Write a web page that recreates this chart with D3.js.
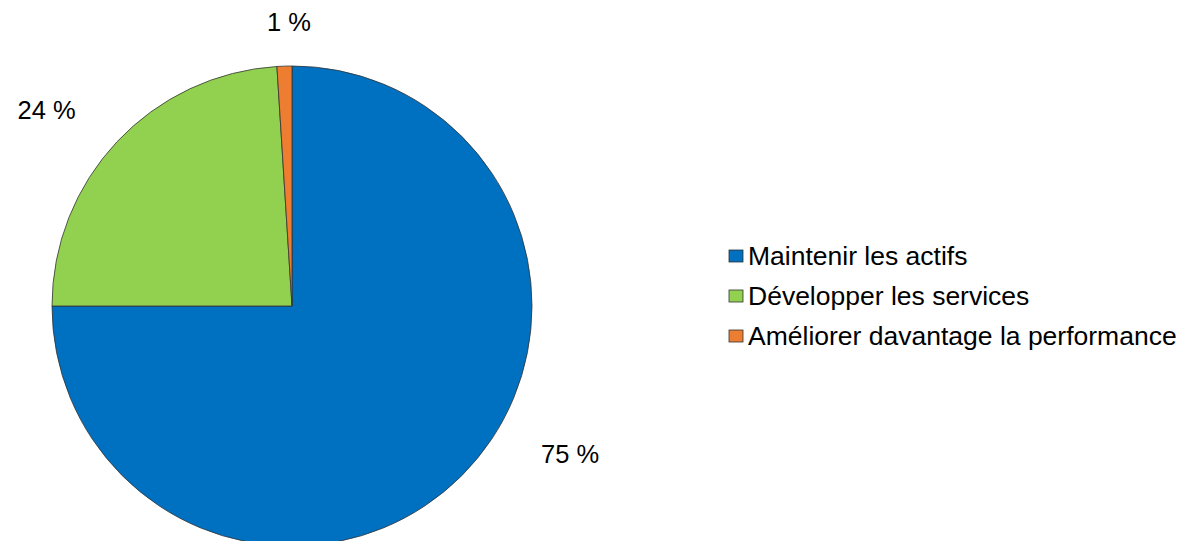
<!DOCTYPE html>
<html><head><meta charset="utf-8">
<script src="https://cdn.jsdelivr.net/npm/d3@7"></script>
<style>html,body{margin:0;padding:0;background:#fff;overflow:hidden}svg{display:block}</style>
</head><body>
<svg id="chart" width="1182" height="541"></svg>
<script>
const categories = ["Maintenir les actifs", "Développer les services", "Améliorer davantage la performance"];
const values = [75, 24, 1];
const labels = ["75 %", "24 %", "1 %"];
const colors = ["#0070C0", "#92D050", "#ED7D31"];

const W = 1182, H = 541;
const svg = d3.select("#chart");
const cx = 292, cy = 306, R = 240;
const font = "'Liberation Sans', Arial, sans-serif";

const pie = d3.pie().sort(null).value(d => d)(values);
const arc = d3.arc().innerRadius(0).outerRadius(R);

const g = svg.append("g").attr("transform", `translate(${cx},${cy})`);
g.selectAll("path").data(pie).join("path")
  .attr("d", arc)
  .attr("fill", (d, i) => colors[i])
  .attr("stroke", "#333")
  .attr("stroke-width", 0.8);

// label placement: along slice mid-angle, Excel-like best fit
const labelRadius = [315, 314, 284];
const labelAngleShift = [-17, -4.6, 1.2]; // degrees
g.selectAll("text.lbl").data(pie).join("text")
  .attr("class", "lbl")
  .attr("x", (d, i) => {
    const a = (d.startAngle + d.endAngle) / 2 + labelAngleShift[i] * Math.PI / 180;
    return Math.sin(a) * labelRadius[i];
  })
  .attr("y", (d, i) => {
    const a = (d.startAngle + d.endAngle) / 2 + labelAngleShift[i] * Math.PI / 180;
    return -Math.cos(a) * labelRadius[i];
  })
  .attr("dy", "0.35em")
  .attr("text-anchor", "middle")
  .attr("font-family", font)
  .attr("font-size", 25.5)
  .attr("fill", "#000")
  .text((d, i) => labels[i]);

// legend
const lg = svg.append("g").attr("transform", "translate(729,256)");
const rowH = 40;
const items = lg.selectAll("g").data(categories).join("g")
  .attr("transform", (d, i) => `translate(0,${i * rowH})`);
items.append("rect")
  .attr("x", 0).attr("y", -6).attr("width", 14).attr("height", 12)
  .attr("fill", (d, i) => colors[i])
  .attr("stroke", "#333").attr("stroke-width", 0.8);
items.append("text")
  .attr("x", 19).attr("y", 0).attr("dy", "0.35em")
  .attr("font-family", font).attr("font-size", 26.5)
  .attr("fill", "#000")
  .text(d => d);
</script>
</body></html>
